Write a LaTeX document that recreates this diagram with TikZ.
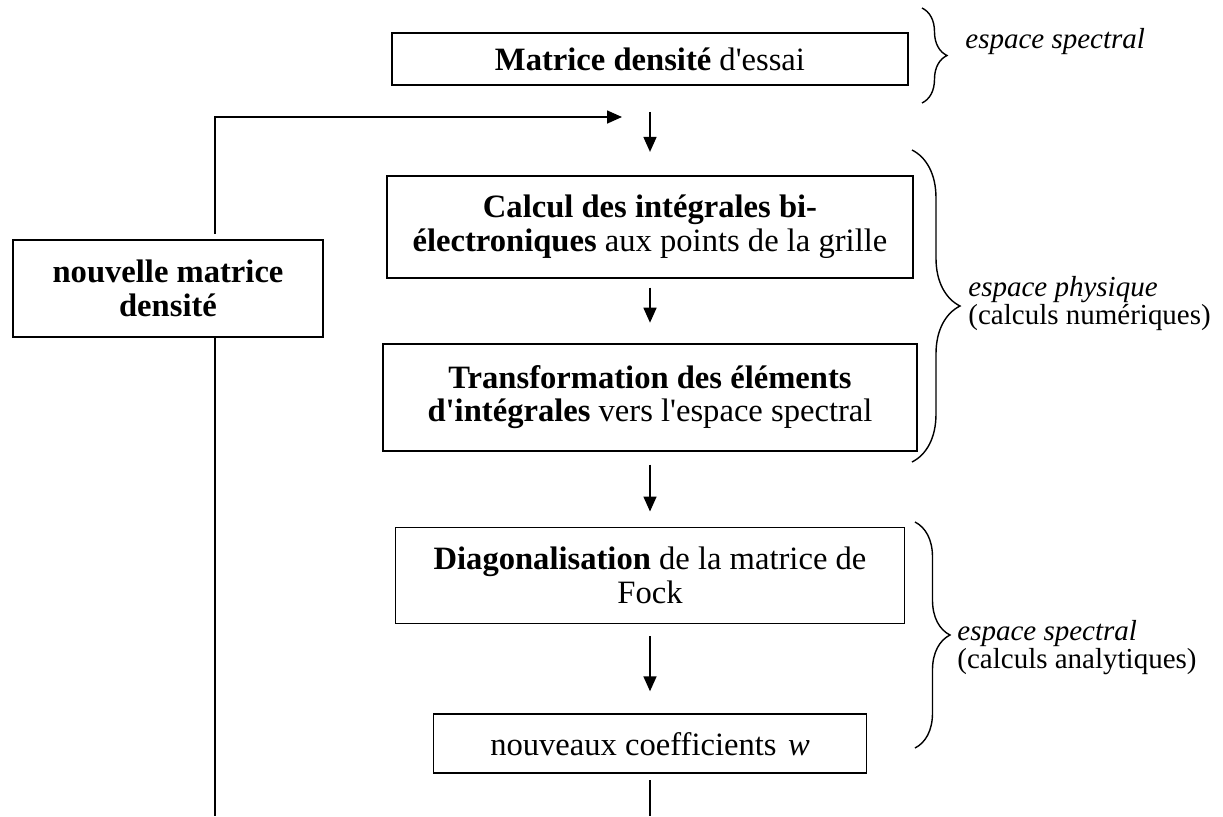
\documentclass[tikz,border=0pt]{standalone}
\usepackage{fontspec}
\setmainfont{Liberation Serif}
\usepackage{tikz}
\usetikzlibrary{arrows.meta, positioning, decorations.pathreplacing}

\newcommand{\boxfont}{\fontsize{16.3}{16.8}\selectfont}
\newcommand{\notefont}{\fontsize{14.5}{14}\selectfont}
\newcommand{\apos}{\textquotesingle}

\begin{document}
\begin{tikzpicture}[
    x=0.5pt, y=0.5pt,
    stepbox/.style={rectangle, draw, line width=0.9pt, align=center,
                    inner sep=4pt, font=\boxfont},
    note/.style={anchor=base west, align=left, inner sep=0pt, font=\notefont},
    arr/.style={-{Triangle[length=7.5pt, width=6.5pt]}, line width=0.8pt},
    link/.style={line width=0.8pt},
    curly/.style={decorate, decoration={brace, amplitude=#1}, line width=0.7pt}
  ]
  \useasboundingbox (0,0) rectangle (1223,-816);

  % main column
  \node[stepbox, minimum width=258pt, minimum height=26pt] (essai) at (650,-59)
    {\textbf{Matrice densité} d\apos essai};
  \node[stepbox, minimum width=263pt, minimum height=51pt, below=44.5pt of essai] (calcul)
    {\textbf{Calcul des intégrales bi-}\\\textbf{électroniques} aux points de la grille};
  \node[stepbox, minimum width=267pt, minimum height=53.5pt, below=32pt of calcul] (transf)
    {\textbf{Transformation des éléments}\\\textbf{d\apos intégrales} vers l\apos espace spectral};
  \node[stepbox, minimum width=254.5pt, minimum height=48pt, below=37.5pt of transf] (diag)
    {\textbf{Diagonalisation} de la matrice de\\Fock};
  \node[stepbox, minimum width=216.5pt, minimum height=29.5pt, below=44.5pt of diag] (coeff)
    {nouveaux coefficients\hspace{0.35em}\textit{w}};

  % feedback box
  \node[stepbox, minimum width=155pt, minimum height=48.5pt] (renew) at (168,-288.5)
    {\textbf{nouvelle matrice}\\\textbf{densité}};

  \coordinate (turn) at (215,-117);
  \coordinate (entry) at (622,-117);
  \coordinate (foot) at (0,-816);

  \draw[arr, shorten <=13pt, shorten >=11.5pt] (essai) -- (calcul);
  \draw[arr, shorten <=4.5pt, shorten >=10pt] (calcul) -- (transf);
  \draw[arr, shorten <=6.5pt, shorten >=7.5pt] (transf) -- (diag);
  \draw[arr, shorten <=6pt, shorten >=11pt] (diag) -- (coeff);

  \draw[link, shorten <=3pt] (coeff) -- (coeff |- foot);
  \draw[link] (renew.south -| turn) -- (turn |- foot);
  \draw[arr, shorten <=2.5pt] (renew.north -| turn) -- (turn) -- (entry);

  % braces and their labels
  \draw[curly=12.5pt] (922,-8) -- (922,-103);
  \draw[curly=24pt] (912,-150) -- (912,-462);
  \draw[curly=17.5pt] (915,-522) -- (915,-748);

  \node[note] (espspec) at (965,-48) {\textit{espace spectral}};
  \node[note] (espphys) at (968,-324) {\textit{espace physique}\\(calculs numériques)};
  \node[note] (espanal) at (957,-668) {\textit{espace spectral}\\(calculs analytiques)};

\end{tikzpicture}
\end{document}
